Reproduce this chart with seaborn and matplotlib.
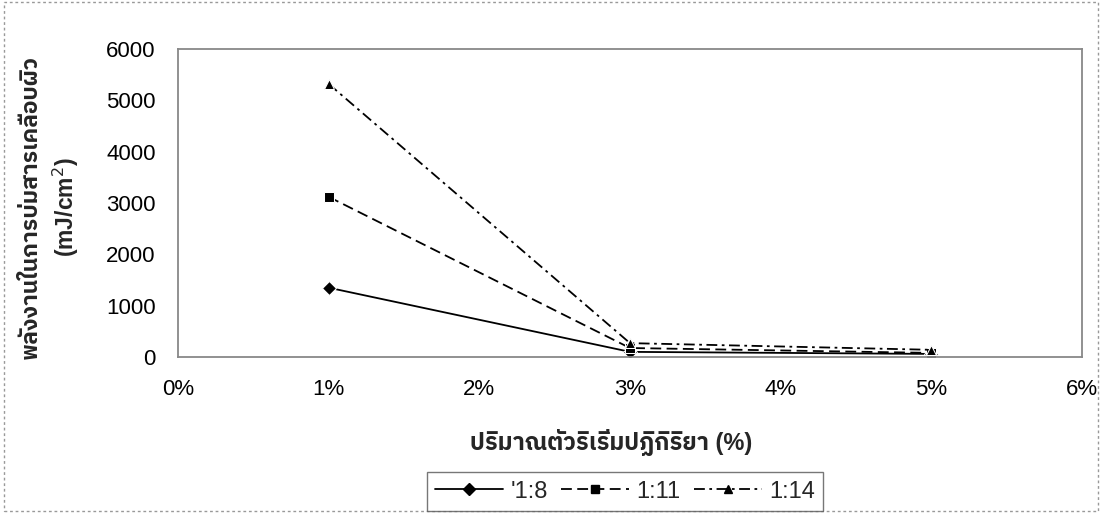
import matplotlib
matplotlib.use("Agg")
import matplotlib.pyplot as plt
import seaborn as sns
import pandas as pd
import numpy as np
from matplotlib import font_manager
from matplotlib.ft2font import FT2Font
from matplotlib.ticker import FuncFormatter
from matplotlib.lines import Line2D
from matplotlib.patches import Rectangle

# Data
catalyst_pct = [1, 3, 5]
series_names = ["'1:8", "1:11", "1:14"]
energy_1_8 = [1350, 100, 60]
energy_1_11 = [3120, 175, 80]
energy_1_14 = [5320, 270, 140]
x_ticks = [0, 1, 2, 3, 4, 5, 6]
y_ticks = [0, 1000, 2000, 3000, 4000, 5000, 6000]
x_label = "ปริมาณตัวริเริ่มปฏิกิริยา (%)"
y_label = "พลังงานในการบ่มสารเคลือบผิว\n(mJ/cm$^2$)"

# find a font with Thai glyphs
thai_font = None
for f in font_manager.fontManager.ttflist:
    try:
        cm = FT2Font(f.fname).get_charmap()
        if 0x0E1E in cm and 0x0E34 in cm:
            thai_font = f.name
            if "Sans" in f.name:
                break
    except Exception:
        pass

sns.set_theme(style="white")
fam = ["Liberation Sans"] + ([thai_font] if thai_font else []) + ["DejaVu Sans"]
plt.rcParams["font.family"] = fam

df = pd.DataFrame({
    "x": catalyst_pct * 3,
    "y": energy_1_8 + energy_1_11 + energy_1_14,
    "series": sum([[s] * 3 for s in series_names], []),
})

fig = plt.figure(figsize=(11.02, 5.13), dpi=100)
ax = fig.add_axes([178 / 1102, 1 - 357 / 513, (1082 - 178) / 1102, (357 - 49) / 513])

sns.lineplot(data=df, x="x", y="y", hue="series", style="series",
             palette=["black"] * 3,
             dashes={"'1:8": "", "1:11": (6, 3), "1:14": (6, 2.5, 1.5, 2.5)},
             markers={"'1:8": "D", "1:11": "s", "1:14": "^"},
             markersize=7, linewidth=1.3, ax=ax, legend=False)

ax.set_xlim(0, 6)
ax.set_ylim(0, 6000)
ax.set_xticks(x_ticks)
ax.set_yticks(y_ticks)
ax.xaxis.set_major_formatter(FuncFormatter(lambda v, p: f"{int(v)}%"))
ax.tick_params(axis="both", labelsize=16, colors="#666666", length=5, width=1,
               direction="out", labelcolor="black")
ax.tick_params(axis="x", pad=11)
ax.tick_params(axis="y", pad=11)
for s in ax.spines.values():
    s.set_color("#888888")
    s.set_linewidth(1.3)
ax.set_xlabel(x_label, fontsize=17, fontweight="bold")
ax.xaxis.set_label_coords((611 - 178) / 904, (357 - 443) / 308)
ax.xaxis.label.set_va("center")
ax.set_ylabel(y_label, fontsize=16.5, fontweight="bold", linespacing=1.4)
ax.yaxis.set_label_coords((50 - 178) / 904, (357 - 207) / 308)
ax.yaxis.label.set_va("center")
ax.grid(False)

handles = [
    Line2D([], [], color="black", lw=1.3, marker="D", markersize=6),
    Line2D([], [], color="black", lw=1.3, ls=(0, (6, 3)), marker="s", markersize=6),
    Line2D([], [], color="black", lw=1.3, ls=(0, (6, 2.5, 1.5, 2.5)), marker="^", markersize=6),
]
leg = fig.legend(handles, series_names, loc="center", bbox_to_anchor=(625 / 1102, 1 - 491.5 / 513),
                 ncol=3, frameon=True, fontsize=17, handlelength=2.9, columnspacing=0.55,
                 handletextpad=0.3, borderpad=0.35, fancybox=False)
leg.get_frame().set_edgecolor("#555555")
leg.get_frame().set_linewidth(1.0)

# outer dashed chart border
fig.patches.append(Rectangle((0.004, 0.004), 0.992, 0.992, transform=fig.transFigure,
                             fill=False, ec="#999999", lw=1, ls=(0, (2, 2))))

fig.savefig("out.png", dpi=100)
